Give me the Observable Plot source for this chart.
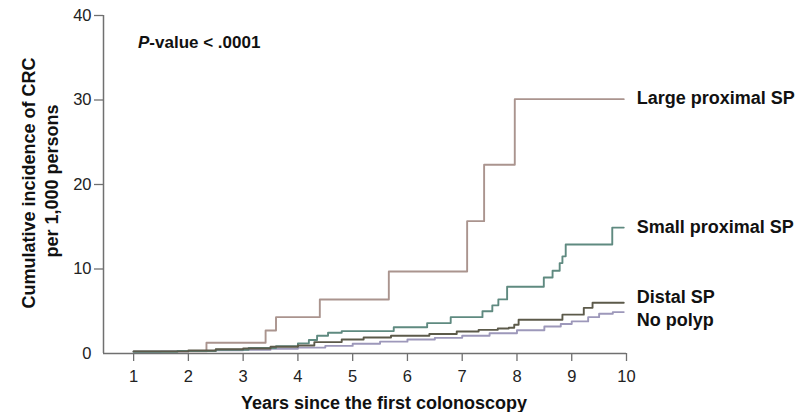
<!DOCTYPE html>
<html><head><meta charset="utf-8">
<script src="https://cdn.jsdelivr.net/npm/d3@7"></script>
<script src="https://cdn.jsdelivr.net/npm/@observablehq/plot@0.6"></script>
<style>
html,body{margin:0;padding:0;background:#fff;}
</style>
</head><body><div id="chart"></div>
<script>
// ---- data ----
const seriesNames = ["Large proximal SP", "Small proximal SP", "Distal SP", "No polyp"];

const largeYears = [1, 2.33, 3.41, 3.6, 4.4, 5.66, 7.09, 7.4, 7.96, 9.95];
const largeVals  = [0.25, 1.27, 2.72, 4.3, 6.39, 9.7, 15.66, 22.33, 30.1, 30.1];

const smallYears = [1, 1.8, 2.5, 3.1, 3.6, 4.0, 4.2, 4.35, 4.55, 4.8, 5.75, 6.36, 6.79, 7.37, 7.55, 7.66, 7.82, 8.49, 8.65, 8.78, 8.83, 8.89, 9.74, 9.95];
const smallVals  = [0.2, 0.3, 0.45, 0.65, 0.85, 1.2, 1.6, 2.1, 2.45, 2.65, 3.1, 3.6, 4.3, 5.0, 5.7, 6.4, 7.9, 9.0, 9.8, 10.7, 11.5, 12.9, 14.9, 14.9];

const distalYears = [1, 2, 2.5, 3, 3.5, 4, 4.3, 4.8, 5.2, 5.7, 6.4, 6.9, 7.3, 7.65, 7.85, 7.95, 8.03, 8.83, 9.22, 9.38, 9.95];
const distalVals  = [0.25, 0.35, 0.5, 0.6, 0.8, 0.95, 1.35, 1.65, 1.9, 2.1, 2.3, 2.6, 2.8, 2.95, 3.05, 3.4, 4.0, 4.6, 5.4, 6.0, 6.0];

const noneYears = [1, 1.5, 2, 2.5, 3, 3.5, 4, 4.5, 5, 5.5, 6, 6.5, 7, 7.5, 8, 8.5, 8.8, 9, 9.3, 9.5, 9.75, 9.95];
const noneVals  = [0.2, 0.25, 0.3, 0.38, 0.45, 0.55, 0.7, 0.9, 1.15, 1.4, 1.65, 1.85, 2.1, 2.4, 2.75, 3.2, 3.5, 3.8, 4.3, 4.7, 4.9, 4.9];

const xTicks = [1, 2, 3, 4, 5, 6, 7, 8, 9, 10];
const yTicks = [0, 10, 20, 30, 40];
const pValueText = "-value < .0001";
const yTitle1 = "Cumulative incidence of CRC";
const yTitle2 = "per 1,000 persons";
const xTitle = "Years since the first colonoscopy";

// ---- styles ----
const seriesColors = ["#aa948e", "#5f8a80", "#5c5a4a", "#9d98ba"];
const labelDy = [-1, 0, -6, 8];
const axisColor = "#707070";
const font = "Liberation Sans, Arial, Helvetica, sans-serif";

const yearsBy = [largeYears, smallYears, distalYears, noneYears];
const valsBy = [largeVals, smallVals, distalVals, noneVals];
const table = [];
seriesNames.forEach((s, i) => yearsBy[i].forEach((yr, j) => table.push({series: s, year: yr, value: valsBy[i][j]})));
const drawOrder = ["Large proximal SP", "No polyp", "Small proximal SP", "Distal SP"];
const ordered = drawOrder.flatMap(s => table.filter(d => d.series === s));
const lastPoints = seriesNames.map(s => table.filter(d => d.series === s).slice(-1)[0]);

const chart = Plot.plot({
  width: 812, height: 412,
  marginLeft: 103, marginRight: 186, marginTop: 15, marginBottom: 59,
  style: {fontFamily: font, background: "#fff", fontSize: "16px"},
  x: {domain: [0.45, 10]},
  y: {domain: [0, 40]},
  color: {domain: seriesNames, range: seriesColors},
  marks: [
    Plot.axisX({ticks: xTicks, tickSize: 8, tickPadding: 9, fontSize: 16.5, label: null, stroke: axisColor, strokeWidth: 1.3, fill: "#222"}),
    Plot.axisY({ticks: yTicks.filter(t => t > 0), tickSize: 9, tickPadding: 3, fontSize: 16.5, label: null, stroke: axisColor, strokeWidth: 1.3, fill: "#222"}),
    Plot.axisY({ticks: [0], tickSize: 0, tickPadding: 12, fontSize: 16.5, label: null, fill: "#222"}),
    Plot.ruleY([0], {x1: 0.45, x2: 10, stroke: axisColor, strokeWidth: 1.5}),
    Plot.ruleX([0.45], {y1: 0, y2: 40, stroke: axisColor, strokeWidth: 1.5}),
    Plot.line(ordered, {x: "year", y: "value", z: "series", stroke: "series", curve: "step-after", strokeWidth: 1.9}),
    ...lastPoints.map((p, i) => Plot.text([p], {x: "year", y: "value", text: "series", textAnchor: "start", dx: 13, dy: labelDy[i], fontSize: 18, fontWeight: "bold", fill: "#111"}))
  ]
});

document.getElementById("chart").appendChild(chart);
const svg = d3.select(chart);

const pv = svg.append("text").attr("x", 138).attr("y", 48).attr("text-anchor", "start")
  .attr("font-family", font).attr("font-size", 17).attr("font-weight", "bold").attr("fill", "#111");
pv.append("tspan").attr("font-style", "italic").text("P");
pv.append("tspan").text(pValueText);

svg.append("text").attr("transform", "translate(35,183) rotate(-90)").attr("text-anchor", "middle")
  .attr("font-family", font).attr("font-size", 18).attr("font-weight", "bold").attr("fill", "#111").text(yTitle1);
svg.append("text").attr("transform", "translate(58,181) rotate(-90)").attr("text-anchor", "middle")
  .attr("font-family", font).attr("font-size", 18).attr("font-weight", "bold").attr("fill", "#111").text(yTitle2);

svg.append("text").attr("x", 384).attr("y", 409).attr("text-anchor", "middle")
  .attr("font-family", font).attr("font-size", 18).attr("font-weight", "bold").attr("fill", "#111").text(xTitle);
</script>
</body></html>
